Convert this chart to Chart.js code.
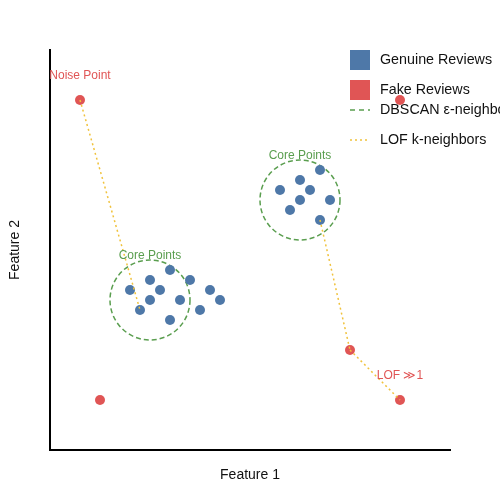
<!DOCTYPE html>
<html>
<head>
<meta charset="utf-8">
<script src="https://cdn.jsdelivr.net/npm/chart.js@4"></script>
<style>
  body { margin: 0; background: #fff; }
  #wrap { width: 500px; height: 500px; }
</style>
</head>
<body>
<div id="wrap"><canvas id="chart"></canvas></div>
<script>
// data (feature space 0..10)
const genuineX = [3, 2.5, 3.5, 2, 2.75, 4, 2.5, 3.25, 4.25, 2.25, 3.75, 3,
                  6.75, 6.25, 6.5, 5.75, 7, 6.25, 6, 6.75];
const genuineY = [4.5, 4.25, 4.25, 4, 4, 4, 3.75, 3.75, 3.75, 3.5, 3.5, 3.25,
                  7, 6.75, 6.5, 6.5, 6.25, 6.25, 6, 5.75];
const fakeX = [0.75, 8.75, 7.5, 8.75, 1.25];
const fakeY = [8.75, 8.75, 2.5, 1.25, 1.25];

// DBSCAN eps circles
const circleX = [2.5, 6.25];
const circleY = [3.75, 6.25];
const circleR = [1, 1];

// LOF k-neighbor links
const lofFromX = [0.75, 6.75, 7.5];
const lofFromY = [8.75, 5.75, 2.5];
const lofToX = [2.25, 7.5, 8.75];
const lofToY = [3.5, 2.5, 1.25];

// annotations
const labelText = ['Noise Point', 'Core Points', 'Core Points', 'LOF \u226b1'];
const labelX = [0.75, 2.5, 6.25, 8.75];
const labelY = [9.35, 4.85, 7.35, 1.85];
const labelColor = ['#e05555', '#5a9e4f', '#5a9e4f', '#e05555'];

const legendLabels = ['Genuine Reviews', 'Fake Reviews', 'DBSCAN \u03b5-neighborhood', 'LOF k-neighbors'];

const BLUE = '#4e78a8';
const RED = '#e05555';
const GREEN = '#5a9e4f';
const YELLOW = '#f0c23c';
const FONT = '"Liberation Sans", Arial, sans-serif';

const toPts = (xs, ys) => xs.map((x, i) => ({ x: x, y: ys[i] }));

// lines go on top of the points (lowest order is drawn last)
const lofSets = lofFromX.map((x, i) => ({
  label: 'lof' + i,
  type: 'scatter',
  showLine: true,
  data: [{ x: x, y: lofFromY[i] }, { x: lofToX[i], y: lofToY[i] }],
  borderColor: YELLOW,
  borderWidth: 1.5,
  borderDash: [2, 3],
  pointRadius: 0,
  order: 0
}));

// legend drawn under the points, like the reference
const legendPlugin = {
  id: 'customLegend',
  beforeDatasetsDraw(chart) {
    const ctx = chart.ctx;
    ctx.save();
    ctx.font = '14.3px ' + FONT;
    ctx.textBaseline = 'middle';
    ctx.fillStyle = BLUE;
    ctx.fillRect(350, 50, 20, 20);
    ctx.fillStyle = RED;
    ctx.fillRect(350, 80, 20, 20);
    ctx.lineWidth = 1.5;
    ctx.strokeStyle = GREEN;
    ctx.setLineDash([5, 4]);
    ctx.beginPath(); ctx.moveTo(350, 110); ctx.lineTo(370, 110); ctx.stroke();
    ctx.strokeStyle = YELLOW;
    ctx.setLineDash([2, 3]);
    ctx.beginPath(); ctx.moveTo(350, 140); ctx.lineTo(370, 140); ctx.stroke();
    ctx.setLineDash([]);
    ctx.fillStyle = '#111';
    ctx.fillText(legendLabels[0], 380, 60.5);
    ctx.fillText(legendLabels[1], 380, 90.5);
    ctx.fillText(legendLabels[2], 380, 110.5);
    ctx.fillText(legendLabels[3], 380, 140.5);
    ctx.restore();
  }
};

// eps circles + text annotations in data coordinates
const annotPlugin = {
  id: 'annot',
  beforeDatasetsDraw(chart) {
    const ctx = chart.ctx;
    const xs = chart.scales.x, ys = chart.scales.y;
    ctx.save();
    ctx.strokeStyle = GREEN;
    ctx.lineWidth = 1.5;
    ctx.setLineDash([5, 3]);
    circleX.forEach((cx, i) => {
      const px = xs.getPixelForValue(cx);
      const py = ys.getPixelForValue(circleY[i]);
      const r = xs.getPixelForValue(cx + circleR[i]) - px;
      ctx.beginPath();
      ctx.arc(px, py, r, 0, Math.PI * 2);
      ctx.stroke();
    });
    ctx.restore();
  },
  afterDatasetsDraw(chart) {
    const ctx = chart.ctx;
    const xs = chart.scales.x, ys = chart.scales.y;
    ctx.save();
    ctx.font = '12px ' + FONT;
    ctx.textAlign = 'center';
    ctx.textBaseline = 'middle';
    labelText.forEach((t, i) => {
      ctx.fillStyle = labelColor[i];
      ctx.fillText(t, xs.getPixelForValue(labelX[i]), ys.getPixelForValue(labelY[i]));
    });
    ctx.restore();
  }
};

new Chart(document.getElementById('chart').getContext('2d'), {
  type: 'scatter',
  data: {
    datasets: [
      {
        label: 'Genuine Reviews',
        data: toPts(genuineX, genuineY),
        backgroundColor: BLUE,
        borderWidth: 0,
        pointRadius: 5,
        order: 1
      },
      {
        label: 'Fake Reviews',
        data: toPts(fakeX, fakeY),
        backgroundColor: RED,
        borderWidth: 0,
        pointRadius: 5,
        order: 2
      },
      ...lofSets
    ]
  },
  options: {
    responsive: true,
    maintainAspectRatio: false,
    animation: false,
    layout: { padding: { top: 50, right: 50, bottom: 12, left: 0 } },
    scales: {
      x: {
        min: 0, max: 10,
        grid: { display: false, drawTicks: false },
        ticks: { display: false },
        border: { color: '#000', width: 2 },
        title: {
          display: true, text: 'Feature 1', color: '#111',
          font: { size: 14, family: FONT },
          padding: { top: 17.2, bottom: 4 }
        }
      },
      y: {
        min: 0, max: 10,
        grid: { display: false, drawTicks: false },
        ticks: { display: false },
        border: { color: '#000', width: 2 },
        title: {
          display: true, text: 'Feature 2', color: '#111',
          font: { size: 14, family: FONT },
          padding: { top: 6.6, bottom: 26.6 }
        }
      }
    },
    plugins: {
      legend: { display: false },
      tooltip: { enabled: false }
    }
  },
  plugins: [legendPlugin, annotPlugin]
});
</script>
</body>
</html>
